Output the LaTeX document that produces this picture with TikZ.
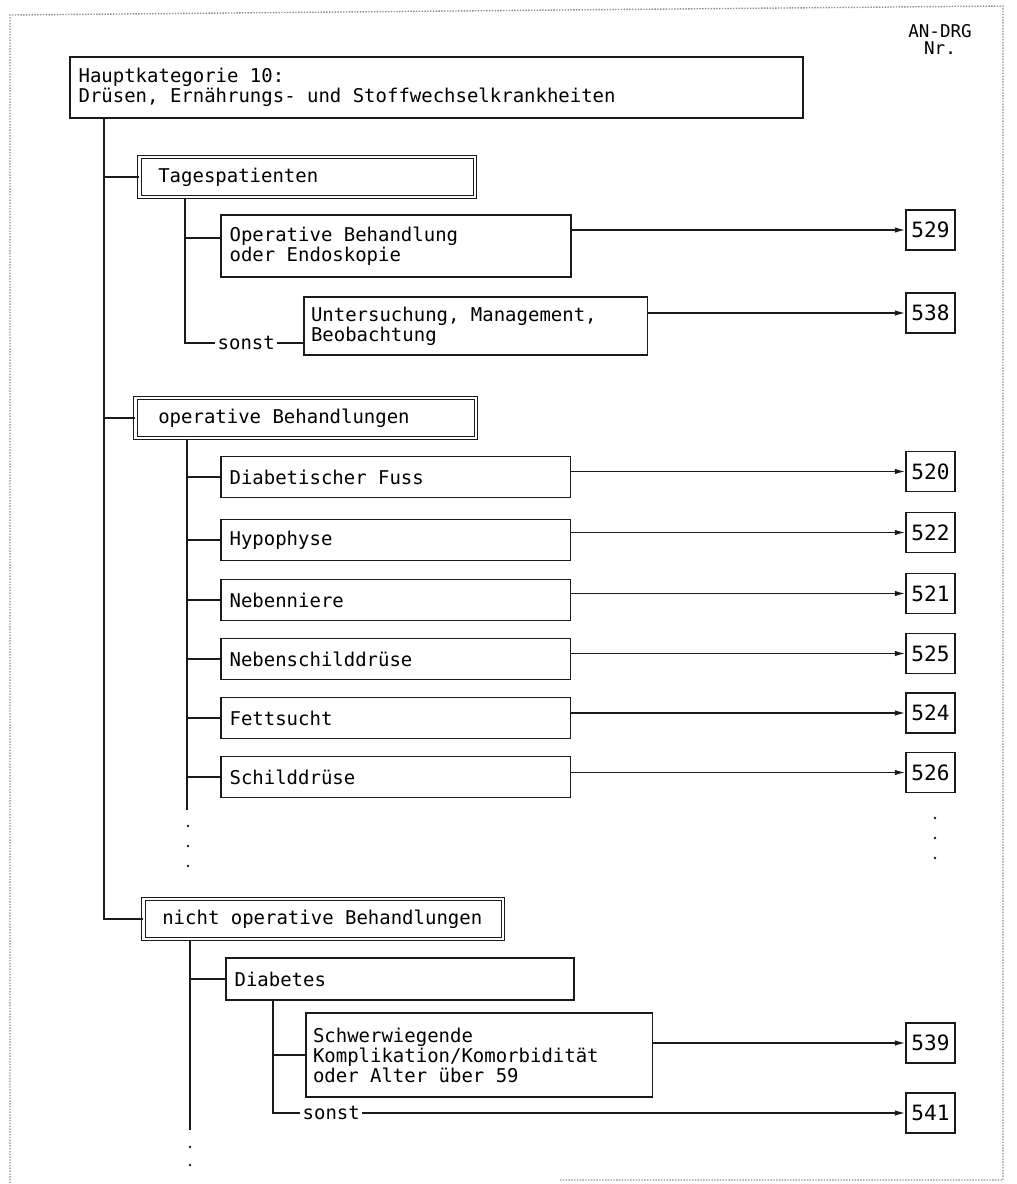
\documentclass[tikz,border=0pt]{standalone}
\usepackage{fontspec}
\setmonofont{DejaVu Sans Mono}
\usetikzlibrary{arrows.meta, calc}
\definecolor{inkLine}{HTML}{1A1A1A}
\definecolor{frameGray}{HTML}{8C8C8C}
\newcommand{\drgfont}[2]{\ttfamily\fontsize{#1}{#2}\selectfont}

\begin{document}
\begin{tikzpicture}[
  x=0.25mm, y=-0.25mm,
  font=\drgfont{13.5}{12.1},
  execute at begin node={\spaceskip=0.602em\xspaceskip=0.602em\relax},
  box/.style   ={draw=inkLine, line width=0.4mm, anchor=west, align=left,
                 inner xsep=2.2mm, inner ysep=0pt},
  item/.style  ={box, text width=83mm, minimum height=10.25mm},
  cat/.style   ={draw=inkLine, double, double distance=0.6mm, line width=0.25mm,
                 anchor=west, align=left, inner xsep=4.7mm, inner ysep=0pt,
                 minimum height=10.1mm},
  num/.style   ={draw=inkLine, line width=0.4mm, minimum width=12.25mm,
                 minimum height=10mm, inner sep=0pt, font=\drgfont{15}{15}},
  word/.style  ={inner sep=0.6mm, anchor=west},
  link/.style  ={draw=inkLine, line width=0.35mm},
  flow/.style  ={link, -{Latex[length=2.6mm, width=1.4mm]}},
  frame/.style ={draw=frameGray, densely dotted, line width=0.35mm},
]
\useasboundingbox (0,0) rectangle (1017,1184);

% ----- Frame and column head -----
\draw[frame] (560,1180) -- (1003,1180) -- (1003,6) -- (10,15) -- (10,1184);
\node[align=center, font=\drgfont{12.5}{12.1}] (drg) at (940,39) {AN-DRG\\Nr.};

% ----- Hauptkategorie -----
\node[box, anchor=north west, text width=178.9mm, minimum height=15.25mm] (main) at (69,56)
  {Hauptkategorie 10:\\Drüsen, Ernährungs- und Stoffwechselkrankheiten};

% ----- Tagespatienten -----
\node[cat, text width=74.5mm] (tages) at (139,177) {Tagespatienten};
\node[box, text width=83.1mm, minimum height=15.5mm] (opend) at (220,246)
  {Operative Behandlung\\oder Endoskopie};
\node[word] (sonstA) at (215,343) {sonst};
\node[box, text width=82.35mm, minimum height=14.5mm, inner xsep=1.8mm] (unters) at (303,326)
  {Untersuchung, Management,\\Beobachtung};
\node[num] (n529) at (930.5,230) {529};
\node[num] (n538) at (930.5,313) {538};

% ----- operative Behandlungen -----
\node[cat, text width=73.7mm, inner xsep=5.7mm] (opbeh) at (135,418) {operative Behandlungen};
\node[item] (fuss)    at (220,477) {Diabetischer Fuss};
\node[item] (hypo)    at (220,540) {Hypophyse};
\node[item] (nniere)  at (220,600) {Nebenniere};
\node[item] (nschild) at (220,659) {Nebenschilddrüse};
\node[item] (fett)    at (220,718) {Fettsucht};
\node[item] (schild)  at (220,777) {Schilddrüse};
\node[num] (n520) at (930.5,471.5) {520};
\node[num] (n522) at (930.5,532.5) {522};
\node[num] (n521) at (930.5,593.5) {521};
\node[num] (n525) at (930.5,653.5) {525};
\node[num] (n524) at (930.5,713)   {524};
\node[num] (n526) at (930.5,772.5) {526};

% ----- nicht operative Behandlungen -----
\node[cat, text width=80.5mm] (nichtop) at (143,919) {nicht operative Behandlungen};
\node[box, text width=82.6mm, minimum height=10.5mm] (diab) at (225,979) {Diabetes};
\node[box, text width=83.1mm, minimum height=21mm, inner xsep=1.8mm,
      font=\drgfont{13.5}{11.4}] (schwer) at (305,1055)
  {Schwerwiegende\\Komplikation/Komorbidität\\oder Alter über 59};
\node[word] (sonstB) at (300,1113) {sonst};
\node[num] (n539) at (930.5,1043) {539};
\node[num] (n541) at (930.5,1113) {541};

% ----- Trunk lines -----
\coordinate (trunkA) at ($(main.south west)+(35,0)$);
\coordinate (trunkB) at ($(tages.south west)+(46,0)$);
\coordinate (trunkC) at ($(opbeh.south west)+(52,0)$);
\coordinate (trunkD) at ($(nichtop.south west)+(47,0)$);
\coordinate (trunkE) at ($(diab.south west)+(48,0)$);

\draw[link] (trunkA) |- (nichtop.west);
\draw[link] (trunkA |- tages.west) -- (tages.west);
\draw[link] (trunkA |- opbeh.west) -- (opbeh.west);

% Tagespatienten
\draw[link] (trunkB) |- (sonstA.west);
\draw[link] (trunkB |- 0,238) -- (opend.west |- 0,238);
\draw[link] (sonstA.east) -- (sonstA.east -| unters.west);
\draw[flow] (opend.east |- n529.west) -- (n529.west);
\draw[flow] (unters.east |- n538.west) -- (n538.west);

% operative Behandlungen
\draw[link] (trunkC) -- (trunkC |- 0,810);
\draw[link] (trunkC |- fuss.west)    -- (fuss.west);
\draw[link] (trunkC |- hypo.west)    -- (hypo.west);
\draw[link] (trunkC |- nniere.west)  -- (nniere.west);
\draw[link] (trunkC |- nschild.west) -- (nschild.west);
\draw[link] (trunkC |- fett.west)    -- (fett.west);
\draw[link] (trunkC |- schild.west)  -- (schild.west);
\draw[flow] (fuss.east |- n520.west)    -- (n520.west);
\draw[flow] (hypo.east |- n522.west)    -- (n522.west);
\draw[flow] (nniere.east |- n521.west)  -- (n521.west);
\draw[flow] (nschild.east |- n525.west) -- (n525.west);
\draw[flow] (fett.east |- n524.west)    -- (n524.west);
\draw[flow] (schild.east |- n526.west)  -- (n526.west);
\fill[inkLine] (188,826) circle (0.35mm);
\fill[inkLine] (188,846) circle (0.35mm);
\fill[inkLine] (188,866) circle (0.35mm);
\fill[inkLine] (935,818) circle (0.35mm);
\fill[inkLine] (935,838) circle (0.35mm);
\fill[inkLine] (935,858) circle (0.35mm);

% nicht operative Behandlungen
\draw[link] (trunkD) -- (trunkD |- 0,1130);
\draw[link] (trunkD |- diab.west) -- (diab.west);
\fill[inkLine] (190,1147) circle (0.35mm);
\fill[inkLine] (190,1165) circle (0.35mm);
\draw[link] (trunkE) |- (sonstB.west);
\draw[link] (trunkE |- schwer.west) -- (schwer.west);
\draw[flow] (schwer.east |- n539.west) -- (n539.west);
\draw[flow] (sonstB.east) -- (sonstB.east -| n541.west);

\end{tikzpicture}
\end{document}
